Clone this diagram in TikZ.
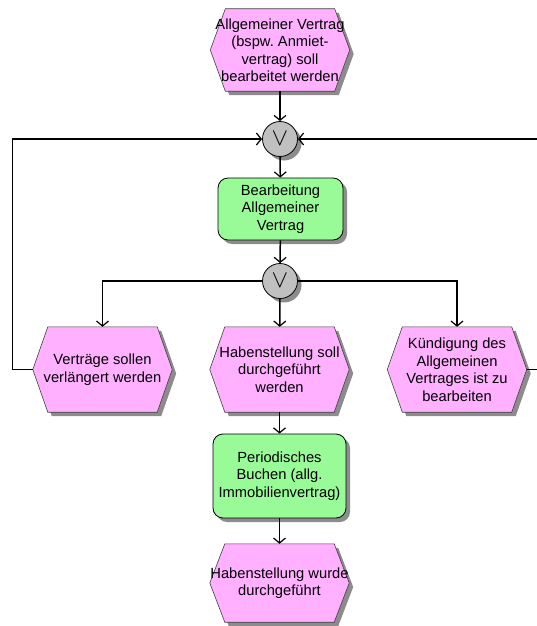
\documentclass[tikz,border=0pt]{standalone}
\usepackage{fontspec}
\setmainfont{Liberation Sans}
\usetikzlibrary{shadows,arrows.meta,backgrounds}
\definecolor{evfill}{RGB}{255,176,255}
\definecolor{fnfill}{RGB}{152,251,152}
\definecolor{opfill}{RGB}{192,192,192}
\frenchspacing
\begin{document}
\begin{tikzpicture}[x=1pt,y=-1pt,
  shade/.style={drop shadow={shadow xshift=4pt,shadow yshift=-4pt,fill=black!45,opacity=1}},
  eventbox/.style={rectangle,inner sep=0pt,minimum width=139pt,minimum height=#1,
    align=center,font=\fontsize{14.7}{17.5}\selectfont},
  eventbox/.default=85pt,
  hexa/.style={fill=evfill,draw=black!75,line width=0.6pt,shade},
  funcbox/.style={rectangle,rounded corners=10pt,fill=fnfill,draw=black,line width=0.8pt,
    shade,inner sep=0pt,minimum width=#1,align=center,
    font=\fontsize{14.7}{17.5}\selectfont},
  opnode/.style={circle,fill=opfill,draw=black,line width=0.8pt,shade,inner sep=0pt,
    minimum size=35pt,font=\fontsize{24}{24}\selectfont},
  flow/.style={line width=1.5pt,-{Straight Barb[length=5pt,width=12pt,line width=1.2pt]}}]
\useasboundingbox (0,0) rectangle (536,626);

% events and functions of the process chain
\node[eventbox=82pt] (e1) at (280,50) {Allgemeiner Vertrag\\(bspw. Anmiet-\\vertrag) soll\\bearbeitet werden};
\node[opnode] (or1) at (280,139) {$\vee$};
\node[funcbox=125pt,minimum height=62pt] (f1) at (280.5,209) {Bearbeitung\\Allgemeiner\\Vertrag};
\node[opnode] (or2) at (280,281) {$\vee$};
\node[eventbox] (e2) at (102.5,369.5) {Verträge sollen\\verlängert werden};
\node[eventbox] (e3) at (279.5,369.5) {Habenstellung soll\\durchgeführt\\werden};
\node[eventbox] (e4) at (457,369.5) {Kündigung des\\Allgemeinen\\Vertrages ist zu\\bearbeiten};
\node[funcbox=133pt,minimum height=84pt] (f2) at (279.5,476) {Periodisches\\Buchen (allg.\\Immobilienvertrag)};
\node[eventbox=78pt] (e5) at (279.5,583) {Habenstellung wurde\\durchgeführt};

% hexagonal outlines of the events, behind their texts
\begin{scope}[on background layer]
  \foreach \n in {e1,e2,e3,e4,e5}
    \path[hexa] (\n.west) -- ([xshift=15pt]\n.north west) -- ([xshift=-15pt]\n.north east)
      -- (\n.east) -- ([xshift=-15pt]\n.south east) -- ([xshift=15pt]\n.south west) -- cycle;
\end{scope}

% loop-back corners
\coordinate (lx) at (12.7,0);
\coordinate (rx) at (548,0);

% connectors
\draw[flow] (e1) -- (or1);
\draw[flow] (or1) -- (f1);
\draw[flow] (f1) -- (or2);
\draw[flow] (or2) -- (e3);
\draw[flow] (or2.west) -| (e2.north);
\draw[flow] (or2.east) -| (e4.north);
\draw[flow] (e3) -- (f2);
\draw[flow] (f2) -- (e5);
\draw[flow] (e2.west) -- (e2.west -| lx) |- (or1.west);
\draw[flow] (e4.east) -- (e4.east -| rx) |- (or1.east);
\end{tikzpicture}
\end{document}
